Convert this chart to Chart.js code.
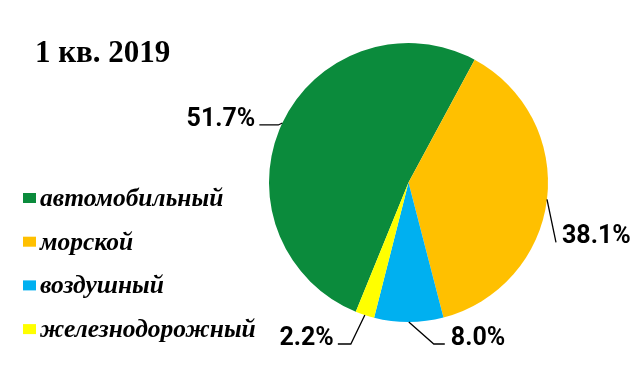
<!DOCTYPE html>
<html>
<head>
<meta charset="utf-8">
<script src="https://cdn.jsdelivr.net/npm/chart.js@4"></script>
<style>
    html, body { margin: 0; padding: 0; background: #fff; }
    #wrap { position: relative; width: 640px; height: 368px; }
</style>
</head>
<body>
<div id="wrap"><canvas id="pieChart" width="640" height="368"></canvas></div>
<script>
// Chart data
const chartTitle = '1 кв. 2019';
const transportTypes = ['автомобильный', 'морской', 'воздушный', 'железнодорожный'];
const transportShares = [51.7, 38.1, 8.0, 2.2];
const transportColors = ['#0B8B3C', '#FFC000', '#00B0F0', '#FFFF00'];

// Leader line layout for each data label (elbow offset from slice edge, tail length, side)
const labelLayout = [
    { elbowX: -4, elbowY: 2, tail: -19, side: 'left' },
    { elbowX: 9, elbowY: 43, tail: 0, side: 'right' },
    { elbowX: 25, elbowY: 22, tail: 11, side: 'right' },
    { elbowX: -14, elbowY: 29, tail: -13, side: 'left' }
];

function initChart() {
    GeneratePieChart();
}

//Draws the title, the legend on the left and the percent labels with leader lines.
const decorPlugin = {
    id: 'decor',
    afterDraw: function (chart) {
        var ctx = chart.ctx;
        ctx.save();

        //Title
        ctx.fillStyle = '#000';
        ctx.font = 'bold 31px "Liberation Serif"';
        ctx.textAlign = 'left';
        ctx.textBaseline = 'alphabetic';
        ctx.fillText(chartTitle, 35, 62);

        //Legend
        for (let i = 0; i < transportTypes.length; i++) {
            var cy = 198 + i * 43.7;
            ctx.fillStyle = transportColors[i];
            ctx.fillRect(23, cy - 5, 13, 10);
            ctx.fillStyle = '#000';
            ctx.font = 'italic bold 25.5px "Liberation Serif"';
            ctx.fillText(transportTypes[i], 40, cy + 8);
        }

        //Data labels
        var arcs = chart.getDatasetMeta(0).data;
        arcs.forEach(function (arc, i) {
            var mid = (arc.startAngle + arc.endAngle) / 2;
            var x0 = arc.x + Math.cos(mid) * arc.outerRadius;
            var y0 = arc.y + Math.sin(mid) * arc.outerRadius;
            var lay = labelLayout[i];
            var x1 = x0 + lay.elbowX;
            var y1 = y0 + lay.elbowY;
            var x2 = x1 + lay.tail;

            ctx.strokeStyle = '#000';
            ctx.lineWidth = 1.3;
            ctx.beginPath();
            ctx.moveTo(x0, y0);
            ctx.lineTo(x1, y1);
            ctx.lineTo(x2, y1);
            ctx.stroke();

            ctx.fillStyle = '#000';
            ctx.font = 'bold 25px Roboto';
            ctx.textBaseline = 'alphabetic';
            var text = transportShares[i].toFixed(1) + '%';
            if (lay.side == 'left') {
                ctx.textAlign = 'right';
                ctx.fillText(text, x2 - 4, y1 + 1);
            } else {
                ctx.textAlign = 'left';
                ctx.fillText(text, x2 + 6, y1 + 1);
            }
        });

        ctx.restore();
    }
};

function GeneratePieChart() {
    var pieChartControl = document.getElementById('pieChart');

    var pieChart = new Chart(pieChartControl, {
        type: 'pie',
        data: {
            labels: transportTypes,
            datasets: [{
                data: transportShares,
                backgroundColor: transportColors,
                borderWidth: 0
            }]
        },
        options: {
            responsive: false,
            animation: false,
            rotation: -157.8,
            layout: {
                padding: { left: 269, right: 92, top: 43, bottom: 46 }
            },
            plugins: {
                legend: { display: false },
                tooltip: { enabled: false }
            }
        },
        plugins: [decorPlugin]
    });
}

initChart();
</script>
</body>
</html>
